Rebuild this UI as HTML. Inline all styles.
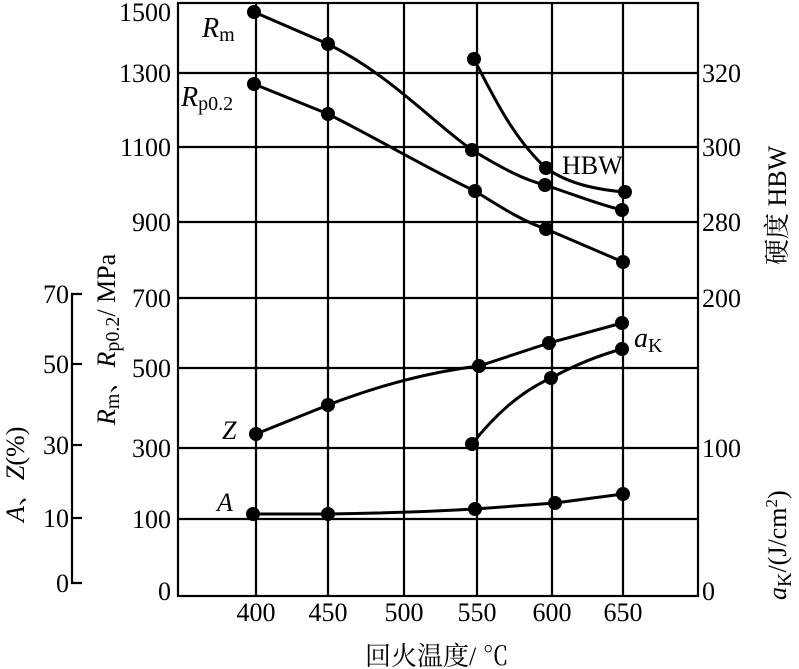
<!DOCTYPE html>
<html><head><meta charset="utf-8"><style>
html,body{margin:0;padding:0;background:#fff;}
svg{display:block;font-family:"Liberation Serif","Noto Serif CJK SC",serif;}
</style></head><body>
<svg width="799" height="669" viewBox="0 0 799 669" xmlns="http://www.w3.org/2000/svg">
<g stroke="#000" stroke-width="2.2" fill="none">
<rect x="178" y="3" width="520" height="593"/>
<line x1="178" y1="73" x2="698" y2="73"/>
<line x1="178" y1="147" x2="698" y2="147"/>
<line x1="178" y1="222" x2="698" y2="222"/>
<line x1="178" y1="298" x2="698" y2="298"/>
<line x1="178" y1="368" x2="698" y2="368"/>
<line x1="178" y1="448" x2="698" y2="448"/>
<line x1="178" y1="519" x2="698" y2="519"/>
<line x1="256" y1="3" x2="256" y2="596"/>
<line x1="328" y1="3" x2="328" y2="596"/>
<line x1="404" y1="3" x2="404" y2="596"/>
<line x1="477" y1="3" x2="477" y2="596"/>
<line x1="552" y1="3" x2="552" y2="596"/>
<line x1="623" y1="3" x2="623" y2="596"/>
<polyline points="82,294 72,294 72,583 82,583"/>
<line x1="72" y1="364" x2="82" y2="364"/>
<line x1="72" y1="445" x2="82" y2="445"/>
<line x1="72" y1="518" x2="82" y2="518"/>
</g>
<g stroke="#000" stroke-width="3" fill="none">
<path d="M254,12 L328,44 C390,75 430,120 472,150 C505,170 525,180 545,185 C575,195 600,205 622,210"/>
<path d="M254,84 L328,114 C380,140 430,170 475,191 C505,210 525,222 546,229 L623,262"/>
<path d="M474,59 C495,100 515,140 546,168 C570,185 600,190 625,192"/>
<path d="M256,434 L328,405 C380,385 430,372 479,366 L549,343 L622,323"/>
<path d="M472,444 C495,415 520,392 551,378 C575,365 600,355 622,349"/>
<path d="M253,514 L328,514 C400,513 440,511 475,509 L555,503 L623,494"/>
</g>
<g fill="#000">
<circle cx="254" cy="12" r="7"/><circle cx="328" cy="44" r="7"/><circle cx="472" cy="150" r="7"/><circle cx="545" cy="185" r="7"/><circle cx="622" cy="210" r="7"/>
<circle cx="254" cy="84" r="7"/><circle cx="328" cy="114" r="7"/><circle cx="475" cy="191" r="7"/><circle cx="546" cy="229" r="7"/><circle cx="623" cy="262" r="7"/>
<circle cx="474" cy="59" r="7"/><circle cx="546" cy="168" r="7"/><circle cx="625" cy="192" r="7"/>
<circle cx="256" cy="434" r="7"/><circle cx="328" cy="405" r="7"/><circle cx="479" cy="366" r="7"/><circle cx="549" cy="343" r="7"/><circle cx="622" cy="323" r="7"/>
<circle cx="472" cy="444" r="7"/><circle cx="551" cy="378" r="7"/><circle cx="622" cy="349" r="7"/>
<circle cx="253" cy="514" r="7"/><circle cx="328" cy="514" r="7"/><circle cx="475" cy="509" r="7"/><circle cx="555" cy="503" r="7"/><circle cx="623" cy="494" r="7"/>
</g>
<g font-size="26" fill="#000">
<g text-anchor="end">
<text x="171" y="21">1500</text><text x="171" y="82">1300</text><text x="171" y="156">1100</text>
<text x="171" y="231">900</text><text x="171" y="307">700</text><text x="171" y="377">500</text>
<text x="171" y="457">300</text><text x="171" y="528">100</text><text x="171" y="600">0</text>
<text x="69" y="303">70</text><text x="69" y="373">50</text><text x="69" y="454">30</text>
<text x="69" y="527">10</text><text x="69" y="592">0</text>
</g>
<g text-anchor="start">
<text x="702" y="82">320</text><text x="702" y="156">300</text><text x="702" y="231">280</text>
<text x="702" y="307">200</text><text x="702" y="457">100</text><text x="702" y="600">0</text>
</g>
<g text-anchor="middle">
<text x="256" y="621">400</text><text x="328" y="621">450</text><text x="404" y="621">500</text>
<text x="477" y="621">550</text><text x="552" y="621">600</text><text x="623" y="621">650</text>
</g>
<text x="365" y="665">回火温度/ ℃</text>
<text x="202" y="37" font-size="28"><tspan font-style="italic">R</tspan><tspan font-size="20" dy="4">m</tspan></text>
<text x="181" y="106" font-size="28"><tspan font-style="italic">R</tspan><tspan font-size="20" dy="4">p0.2</tspan></text>
<text x="562" y="174">HBW</text>
<text x="634" y="347" font-size="28"><tspan font-style="italic">a</tspan><tspan font-size="20" dy="5">K</tspan></text>
<text x="222" y="439" font-style="italic">Z</text>
<text x="217" y="511" font-style="italic">A</text>
<text transform="translate(115,425) rotate(-90)"><tspan font-style="italic">R</tspan><tspan font-size="20" dy="4">m</tspan><tspan dy="-4">、</tspan><tspan font-style="italic">R</tspan><tspan font-size="20" dy="4">p0.2</tspan><tspan dy="-4">/ MPa</tspan></text>
<text transform="translate(24,522) rotate(-90)"><tspan font-style="italic">A</tspan>、<tspan font-style="italic">Z</tspan>(%)</text>
<text transform="translate(786,265) rotate(-90)">硬度  HBW</text>
<text transform="translate(786,600) rotate(-90)"><tspan font-style="italic">a</tspan><tspan font-size="20" dy="5">K</tspan><tspan dy="-5">/(J/cm</tspan><tspan font-size="17" dy="-9">2</tspan><tspan dy="9">)</tspan></text>
</g>
</svg>
</body></html>
